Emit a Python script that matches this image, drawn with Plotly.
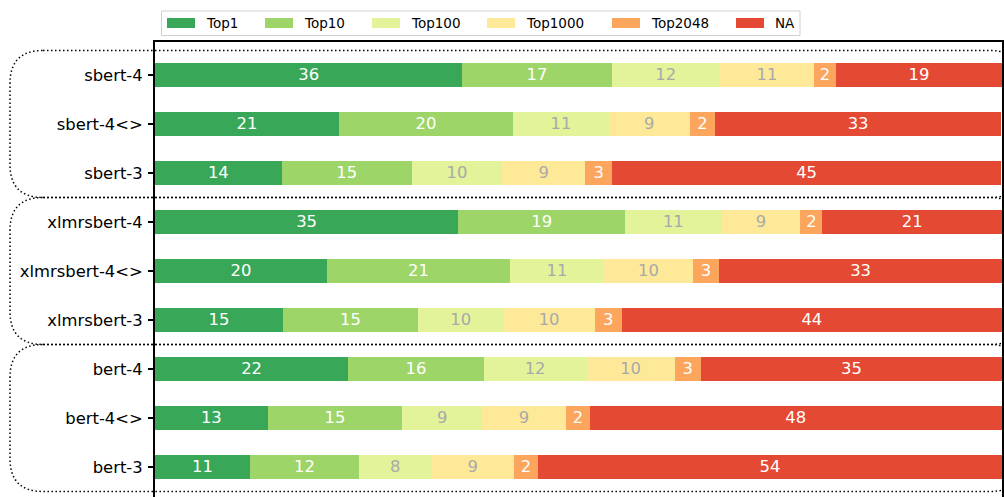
import math
import plotly.graph_objects as go

# ---------------- data ----------------
categories = ["sbert-4", "sbert-4<>", "sbert-3",
              "xlmrsbert-4", "xlmrsbert-4<>", "xlmrsbert-3",
              "bert-4", "bert-4<>", "bert-3"]
series_names = ["Top1", "Top10", "Top100", "Top1000", "Top2048", "NA"]

top1 = [36.3, 21.7, 14.95, 35.8, 20.3, 15.1, 22.8, 13.3, 11.2]
top10 = [17.6, 20.6, 15.35, 19.7, 21.6, 15.95, 16.0, 15.9, 12.9]
top100 = [12.8, 11.25, 10.7, 11.4, 11.1, 10.1, 12.15, 9.4, 8.5]
top1000 = [11.1, 9.6, 9.8, 9.3, 10.5, 10.75, 10.4, 9.95, 9.8]
top2048 = [2.6, 2.96, 3.15, 2.6, 3.1, 3.2, 3.1, 2.75, 2.8]
na = [19.6, 33.8, 45.95, 21.2, 33.4, 44.9, 35.55, 48.7, 54.8]

groups = [["sbert-4", "sbert-4<>", "sbert-3"],
          ["xlmrsbert-4", "xlmrsbert-4<>", "xlmrsbert-3"],
          ["bert-4", "bert-4<>", "bert-3"]]

# ---------------- style ----------------
colors = ["#39a758", "#9dd569", "#e3f399", "#fee999", "#fca55d", "#e34933"]
text_colors = ["white", "white", "#a9a9a9", "#a9a9a9", "white", "white"]
FONT = "DejaVu Sans"

W, H = 1004, 497
ML, MT = 155, 42
MR = W - 1002
MB = 0
PW, PH = W - ML - MR, H - MT - MB
Y_TOP = -0.673
Y_BOT = Y_TOP + PH / 49.0  # 49 px per category

series_values = [top1, top10, top100, top1000, top2048, na]

fig = go.Figure()
for name, vals, col, tcol in zip(series_names, series_values, colors, text_colors):
    fig.add_trace(go.Bar(
        y=categories, x=vals, name=name, orientation="h",
        width=0.5,
        marker=dict(color=col, line=dict(width=0)),
        text=[str(math.floor(v)) for v in vals],
        textposition="inside", insidetextanchor="middle",
        textangle=0, constraintext="none",
        textfont=dict(family=FONT, size=16.4, color=tcol),
        hoverinfo="skip",
    ))

shapes = []
annotations = []


def px_x(px):
    return (px - ML) / PW


def px_y(py):
    return (H - MB - py) / PH


def v_y(v):
    return (Y_BOT - v) / (Y_BOT - Y_TOP)


# dotted rounded group boxes
L, R = px_x(10), px_x(1023)
rx, ry = 33 / PW, 33 / PH
for g in groups:
    i0 = categories.index(g[0])
    i1 = categories.index(g[-1])
    T = v_y(i0 - 0.5)
    B = v_y(i1 + 0.5)
    path = (f"M{L+rx},{T} L{R-rx},{T} Q{R},{T} {R},{T-ry} L{R},{B+ry} "
            f"Q{R},{B} {R-rx},{B} L{L+rx},{B} Q{L},{B} {L},{B+ry} "
            f"L{L},{T-ry} Q{L},{T} {L+rx},{T} Z")
    shapes.append(dict(type="path", path=path, xref="paper", yref="paper",
                       line=dict(color="black", width=1.5, dash="1.5px,2.5px"),
                       layer="above"))

# manual legend
lx0, lx1, ly0, ly1 = px_x(161.5), px_x(800), px_y(35.5), px_y(11)
shapes.append(dict(type="rect", xref="paper", yref="paper",
                   x0=lx0, x1=lx1, y0=ly0, y1=ly1,
                   line=dict(color="#d0d0d0", width=1), fillcolor="white",
                   layer="above"))
legend_swatch_px = [167, 265, 372, 487, 612, 736]
for name, col, sx in zip(series_names, colors, legend_swatch_px):
    shapes.append(dict(type="rect", xref="paper", yref="paper",
                       x0=px_x(sx), x1=px_x(sx + 28), y0=px_y(28), y1=px_y(18),
                       line=dict(width=0), fillcolor=col, layer="above"))
    annotations.append(dict(xref="paper", yref="paper", x=px_x(sx + 37), y=px_y(23),
                            text=name, showarrow=False, xanchor="left", yanchor="middle",
                            font=dict(family=FONT, size=13.5, color="black")))

fig.update_layout(
    width=W, height=H,
    margin=dict(l=ML, r=MR, t=MT, b=MB, pad=0, autoexpand=False),
    barmode="stack", bargap=0.5,
    showlegend=False,
    plot_bgcolor="white", paper_bgcolor="white",
    font=dict(family=FONT, size=16, color="black"),
    shapes=shapes, annotations=annotations,
    xaxis=dict(range=[0, 100], side="top", showline=True, linecolor="black",
               linewidth=2, mirror=False, showgrid=False, zeroline=False,
               showticklabels=False, ticks=""),
    yaxis=dict(categoryorder="array", categoryarray=categories,
               range=[Y_BOT, Y_TOP], showline=True, linecolor="black",
               linewidth=2, mirror=True, showgrid=False, zeroline=False,
               ticks="outside", ticklen=5, tickwidth=1.5, tickcolor="black",
               ticklabelstandoff=2,
               tickfont=dict(family=FONT, size=16.4, color="black")),
)

fig.write_html("out.html",
               config={"displayModeBar": False},
               post_script="document.body.style.margin='0';document.body.style.overflow='hidden';")
